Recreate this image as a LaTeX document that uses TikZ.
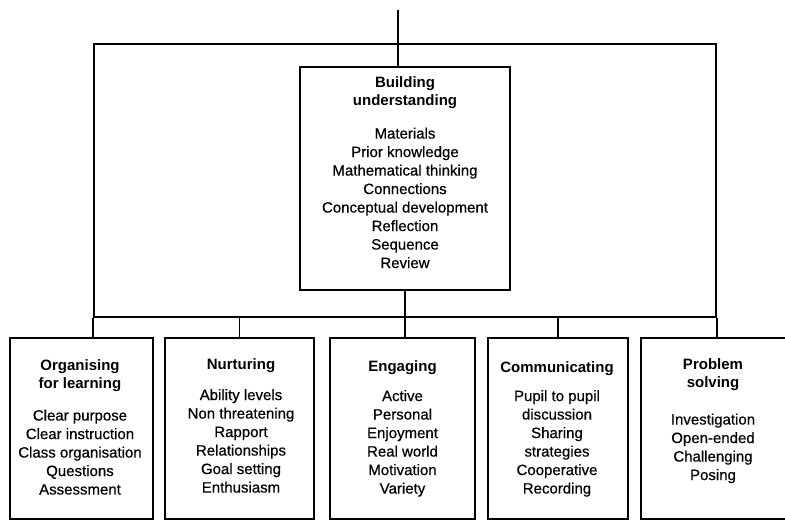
\documentclass[tikz,border=0pt]{standalone}
\usepackage{fontspec}
\setmainfont{Liberation Sans}[UprightFeatures={FakeBold=0.5}]
\begin{document}
\begin{tikzpicture}[x=1pt,y=1pt,
  box/.style={draw, line width=1.7pt, inner sep=0pt},
  link/.style={line width=1.7pt},
  txt/.style={align=center, anchor=north, inner sep=0pt,
    font=\fontsize{15}{18.5}\selectfont}]
\clip (0,0) rectangle (785,-521);
% outer frame and central box
\node[box, minimum width=622pt, minimum height=273pt] (F) at (405,-180.5) {};
\node[box, fill=white, minimum width=210pt, minimum height=223pt] (B) at (405,-178.5) {};
\coordinate (T) at (398,-10);
% bottom boxes
\node[box, minimum width=143pt, minimum height=181pt] (O) at (81.5,-428.5) {};
\node[box, minimum width=149pt, minimum height=181pt] (N) at (239.5,-428.5) {};
\node[box, minimum width=145pt, minimum height=181pt] (E) at (402.5,-428.5) {};
\node[box, minimum width=140pt, minimum height=181pt] (C) at (558,-428.5) {};
\node[box, minimum width=147pt, minimum height=181pt] (P) at (714.5,-428.5) {};
% connectors
\draw[link] (T) -- (T |- B.north);
\draw[link] (B.south) -- (B.south |- E.north);
\draw[link] (F.south west) -- (F.south west |- O.north);
\draw[link] (F.south -| N.north) -- (N.north);
\draw[link] (F.south -| C.north) -- (C.north);
\draw[link] (F.south east) -- (F.south east |- P.north);
% texts
\node[txt] (Bt) at (405,-76) {\textbf{Building}\\\textbf{understanding}\\[14.5pt]Materials\\Prior knowledge\\Mathematical thinking\\Connections\\Conceptual development\\Reflection\\Sequence\\Review};
\node[txt] (Ot) at (80,-359) {\textbf{Organising}\\\textbf{for learning}\\[13.5pt]Clear purpose\\Clear instruction\\Class organisation\\Questions\\Assessment};
\node[txt] (Nt) at (241,-358) {\textbf{Nurturing}\\[12.5pt]Ability levels\\Non threatening\\Rapport\\Relationships\\Goal setting\\Enthusiasm};
\node[txt] (Et) at (402.5,-360) {\textbf{Engaging}\\[11.5pt]Active\\Personal\\Enjoyment\\Real world\\Motivation\\Variety};
\node[txt] (Ct) at (557,-361) {\textbf{Communicating}\\[10.5pt]Pupil to pupil\\discussion\\Sharing\\strategies\\Cooperative\\Recording};
\node[txt] (Pt) at (713,-358) {\textbf{Problem}\\\textbf{solving}\\[18.5pt]Investigation\\Open-ended\\Challenging\\Posing};
\end{tikzpicture}
\end{document}
